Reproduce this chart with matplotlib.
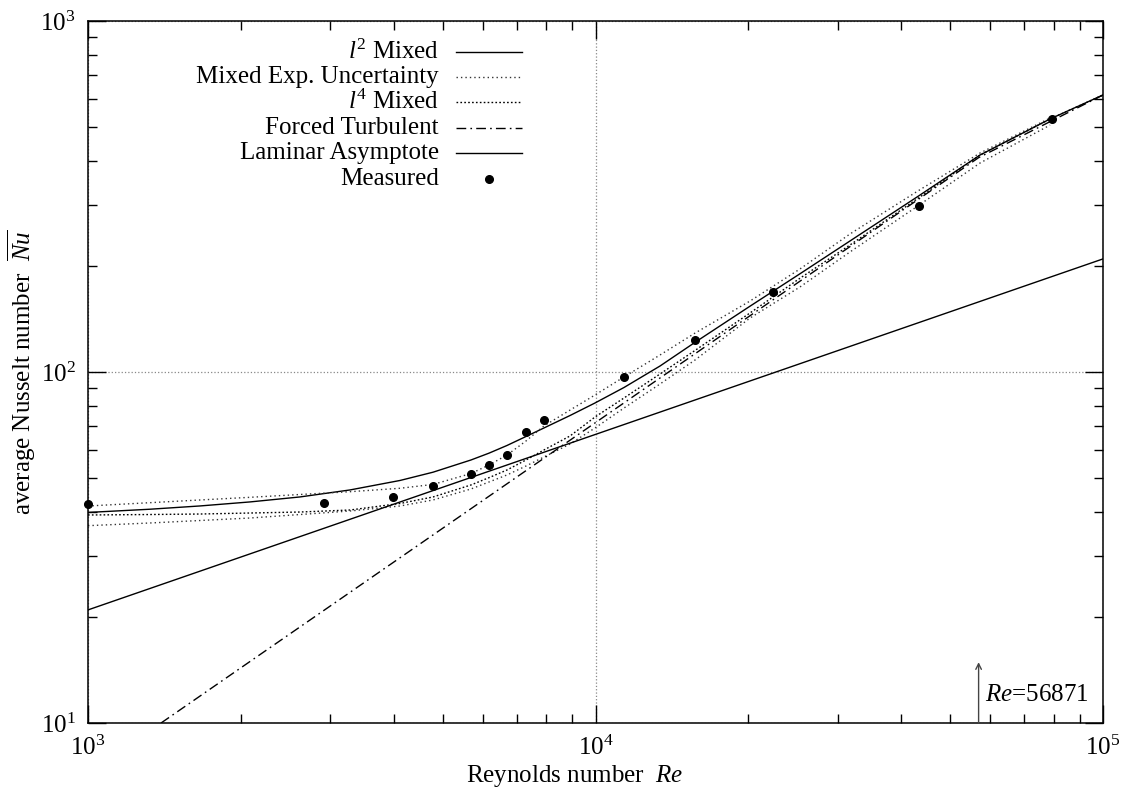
import matplotlib
matplotlib.use("Agg")
import matplotlib.pyplot as plt
from matplotlib.ticker import LogLocator, NullFormatter

plt.rcParams['font.family'] = ['Liberation Serif', 'DejaVu Serif']
plt.rcParams['mathtext.fontset'] = 'custom'
plt.rcParams['mathtext.rm'] = 'Liberation Serif'
plt.rcParams['mathtext.it'] = 'Liberation Serif:italic'
plt.rcParams['mathtext.bf'] = 'Liberation Serif:bold'

# ---- data ----
meas_re = [1000, 2921, 3985, 4784, 5679, 6168, 6683, 7296, 7905, 11366, 15710, 22350, 43450, 79370]
meas_nu = [42.0, 42.4, 44.05, 47.4, 51.3, 54.2, 58.1, 67.5, 72.8, 97.0, 123.1, 169.3, 297.7, 525]

# Re sample positions at which the curves were read
re_pts = [1000, 1325, 1662, 2085, 2617, 3283, 4120, 4784, 5684, 6168, 6692, 7295, 7915,
          8909, 9978, 11380, 13400, 15710, 20160, 25290, 31730, 43010, 57240, 78640, 100000]

l2_nu = [39.8, 40.65, 41.53, 42.64, 44.06, 46.13, 49.09, 51.82, 56.15, 58.72, 61.75, 65.50,
         69.27, 75.17, 81.61, 90.33, 104.0, 121.5, 154.0, 190.5, 236.2, 315.2, 415.1, 525.8, 615.5]

unc_hi_nu = [41.52, 42.43, 43.19, 43.95, 44.77, 45.60, 46.64, 47.82, 51.38, 54.33, 58.0, 63.6,
             70.2, 77.9, 86.0, 96.8, 111.8, 129.1, 159.3, 196.6, 247.3, 326.8, 420.6, 529.0]

unc_lo_nu = [36.49, 37.14, 37.75, 38.37, 39.26, 40.18, 41.52, 43.19, 46.42, 48.6, 50.89, 53.97,
             57.26, 62.36, 69.27, 78.95, 92.43, 108.2, 142.5, 174.7, 219.8, 296.1, 393.9, 505.3]

l4_nu = [39.14, 39.26, 39.39, 39.65, 39.91, 40.44, 42.21, 44.05, 47.66, 50.0, 52.58, 56.15,
         59.96, 65.73, 74.43, 84.32, 98.7, 115.2, 147.3, 185.0, 230.1, 311.1, 415.1, 525.8, 615.5]

turb_re = [1393, 9978, 56871, 100000]
turb_nu = [10.0, 71.6, 408.0, 615.5]

lam_re = [1000, 100000]
lam_nu = [21.0, 210.0]

re_mark = 56871
legend_labels = [r"$l^2$ Mixed", "Mixed Exp. Uncertainty", r"$l^4$ Mixed",
                 "Forced Turbulent", "Laminar Asymptote", "Measured"]

# ---- figure ----
W, H = 1127, 805
FS = 18
fig = plt.figure(figsize=(W / 100, H / 100), dpi=100)
L, R, T, B = 88, 1103, 21, 723
ax = fig.add_axes([L / W, 1 - B / H, (R - L) / W, (B - T) / H])
ax.set_xscale('log')
ax.set_yscale('log')
ax.set_xlim(1e3, 1e5)
ax.set_ylim(10, 1e3)

unc_style = (0, (1, 2.2))
l4_style = (0, (1.2, 1.6))
dd_style = (0, (7, 3, 1.2, 3))

lw = 1.0
ax.plot(re_pts, l2_nu, color='black', lw=lw, ls='-')
ax.plot(re_pts[:len(unc_hi_nu)], unc_hi_nu, color='#333333', lw=lw, ls=unc_style)
ax.plot(re_pts[:len(unc_lo_nu)], unc_lo_nu, color='#333333', lw=lw, ls=unc_style)
ax.plot(re_pts, l4_nu, color='black', lw=lw, ls=l4_style)
ax.plot(turb_re, turb_nu, color='black', lw=lw, ls=dd_style)
ax.plot(lam_re, lam_nu, color='black', lw=lw, ls='-')
ax.plot(meas_re, meas_nu, ls='none', marker='o', ms=5.5, color='black', clip_on=False)

# grid at major decades only
ax.grid(True, which='major', ls=':', color='#888888', lw=0.9)
ax.xaxis.set_major_locator(LogLocator(base=10, numticks=10))
ax.yaxis.set_major_locator(LogLocator(base=10, numticks=10))
ax.xaxis.set_minor_locator(LogLocator(base=10, subs=range(2, 10), numticks=20))
ax.yaxis.set_minor_locator(LogLocator(base=10, subs=range(2, 10), numticks=20))
ax.xaxis.set_minor_formatter(NullFormatter())
ax.yaxis.set_minor_formatter(NullFormatter())
ax.tick_params(which='both', direction='in', top=True, right=True, labelsize=FS, width=1.0)
ax.tick_params(which='major', length=13)
ax.tick_params(which='minor', length=6.5)
ax.tick_params(axis='y', which='major', pad=9)
ax.tick_params(axis='x', which='major', pad=9)
for s in ax.spines.values():
    s.set_linewidth(1.1)

# axis labels
fig.text(575 / W, 1 - 776 / H, r"Reynolds number  $Re$", ha='center', va='center', fontsize=FS)
fig.text(22 / W, 1 - 372 / H, r"average Nusselt number  $\overline{Nu}$", ha='center', va='center',
         rotation=90, fontsize=FS)

# arrow marking transition Reynolds number
ax.annotate("", xy=(re_mark, 14.9), xytext=(re_mark, 10),
            arrowprops=dict(arrowstyle='->', color='#444444', lw=1.0, shrinkA=0, shrinkB=0,
                            mutation_scale=10))
ax.text(58550, 12.0, r"$Re$=56871", ha='left', va='center', fontsize=FS)

# manual gnuplot-style legend (text right-aligned, sample on the right)
rows_y = [52, 77, 102, 128, 153, 179]
styles = [dict(color='black', ls='-'), dict(color='#333333', ls=unc_style),
          dict(color='black', ls=l4_style), dict(color='black', ls=dd_style),
          dict(color='black', ls='-'), None]
for lab, yy, st in zip(legend_labels, rows_y, styles):
    fig.text(439 / W, 1 - yy / H, lab, ha='right', va='center', fontsize=FS)
    if st is None:
        fig.lines.append(plt.Line2D([489 / W], [1 - yy / H], transform=fig.transFigure,
                                    marker='o', ms=5.5, color='black', ls='none'))
    else:
        fig.lines.append(plt.Line2D([456 / W, 522 / W], [1 - yy / H, 1 - yy / H],
                                    transform=fig.transFigure, lw=lw, **st))

fig.savefig("out.png", dpi=100)
